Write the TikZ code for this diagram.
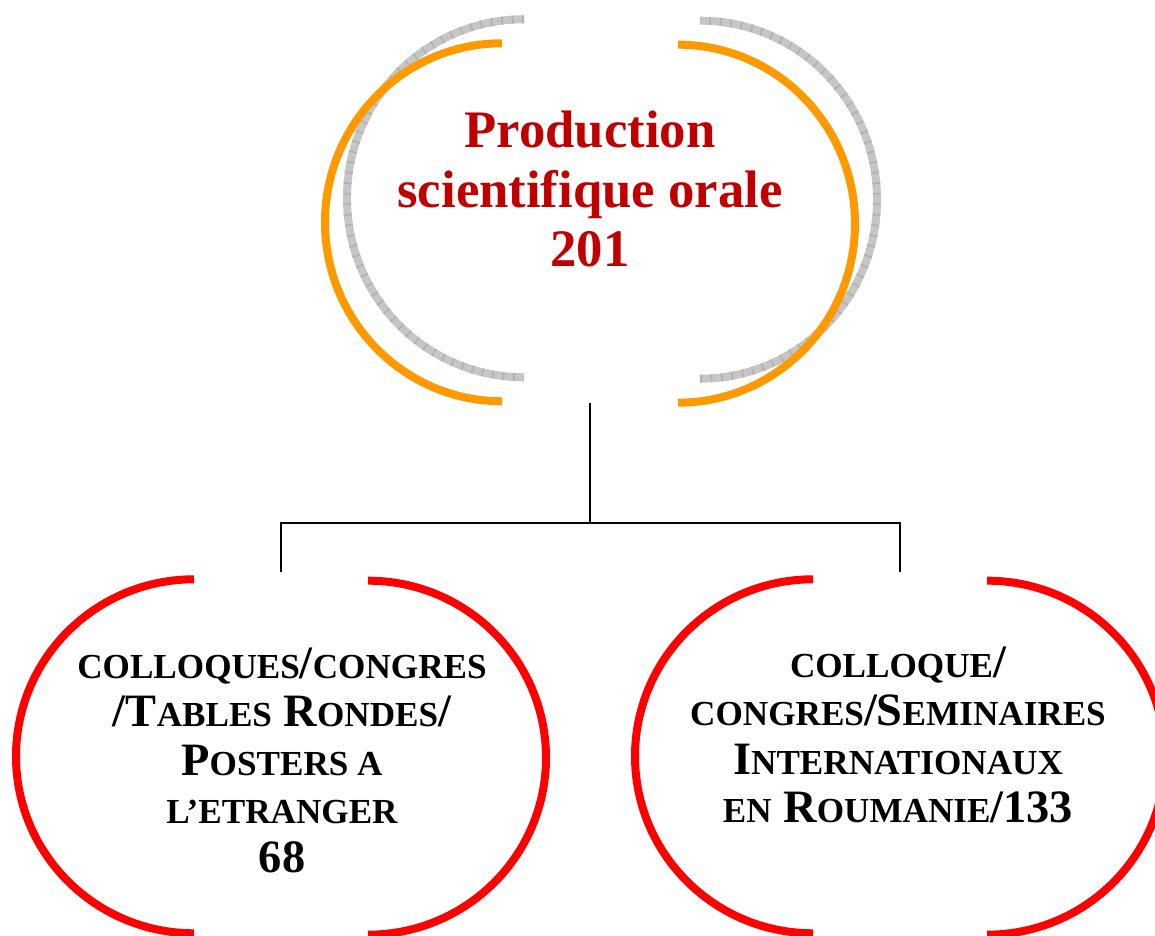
\documentclass[tikz,border=0pt]{standalone}
\usepackage{fontspec}
\setmainfont{Liberation Serif}
\definecolor{darkred}{RGB}{192,0,0}
\definecolor{ringorange}{RGB}{255,153,0}
\newcommand{\smc}[1]{{\fontsize{10}{13.8}\selectfont #1}}

\begin{document}
\begin{tikzpicture}[ring/.style={inner sep=0pt, minimum width=5.3cm},
    toptext/.style={font=\fontsize{15}{16.8}\selectfont\bfseries, text=darkred, align=center},
    subtext/.style={font=\fontsize{13.2}{13.8}\selectfont\bfseries, align=center},
    orangering/.style={draw=ringorange, line width=0.08cm},
    grayring/.style={draw=gray!45, line width=0.08cm},
    graytick/.style={draw=gray!60, line width=0.08cm, dash pattern=on 0.5pt off 2.5pt},
    redring/.style={draw=red, line width=0.08cm},
    link/.style={draw=black, line width=0.8pt}]
\useasboundingbox (0,0) rectangle (11.55,9.36);

    % rings
    \node[ring, minimum height=3.58cm] (prod) at (5.90,7.13) {};
    \node[ring, minimum height=3.54cm] (coll) at (2.81,1.79) {};
    \node[ring, minimum height=3.54cm] (roum) at (9.00,1.79) {};

    \foreach \s in {grayring,graytick} {
        \draw[\s] ([shift={(-0.66,0.24)}]prod.north) arc[start angle=90, end angle=270, x radius=1.77cm, y radius=1.79cm];
        \draw[\s] ([shift={(1.10,0.24)}]prod.south) arc[start angle=-90, end angle=90, x radius=1.77cm, y radius=1.79cm];
    }
    \draw[orangering] ([xshift=-0.88cm]prod.north) arc[start angle=90, end angle=270, x radius=1.77cm, y radius=1.79cm];
    \draw[orangering] ([xshift=0.88cm]prod.south) arc[start angle=-90, end angle=90, x radius=1.77cm, y radius=1.79cm];

    \foreach \n in {coll,roum} {
        \draw[redring] ([xshift=-0.87cm]\n.north) arc[start angle=90, end angle=270, x radius=1.78cm, y radius=1.77cm];
        \draw[redring] ([xshift=0.87cm]\n.south) arc[start angle=-90, end angle=90, x radius=1.78cm, y radius=1.77cm];
    }

    % texts
    \node[toptext] (prodtext) at (5.90,7.47) {Production\\scientifique orale\\201};
    \node[subtext] (colltext) at (2.82,1.76)
        {\smc{COLLOQUES}/\smc{CONGRES}\\/T\smc{ABLES} R\smc{ONDES}/\\P\smc{OSTERS A}\\\smc{L’ETRANGER}\\68};
    \node[subtext] (roumtext) at (8.98,2.01)
        {\smc{COLLOQUE}/\\\smc{CONGRES}/S\smc{EMINAIRES}\\I\smc{NTERNATIONAUX}\\\smc{EN} R\smc{OUMANIE}/133};

    % connectors
    \coordinate (split) at (5.90,4.13);
    \draw[link] (prod.south) -- (split);
    \draw[link, shorten <=0.07cm, shorten >=0.07cm] (coll.north) |- (split) -| (roum.north);
\end{tikzpicture}
\end{document}
